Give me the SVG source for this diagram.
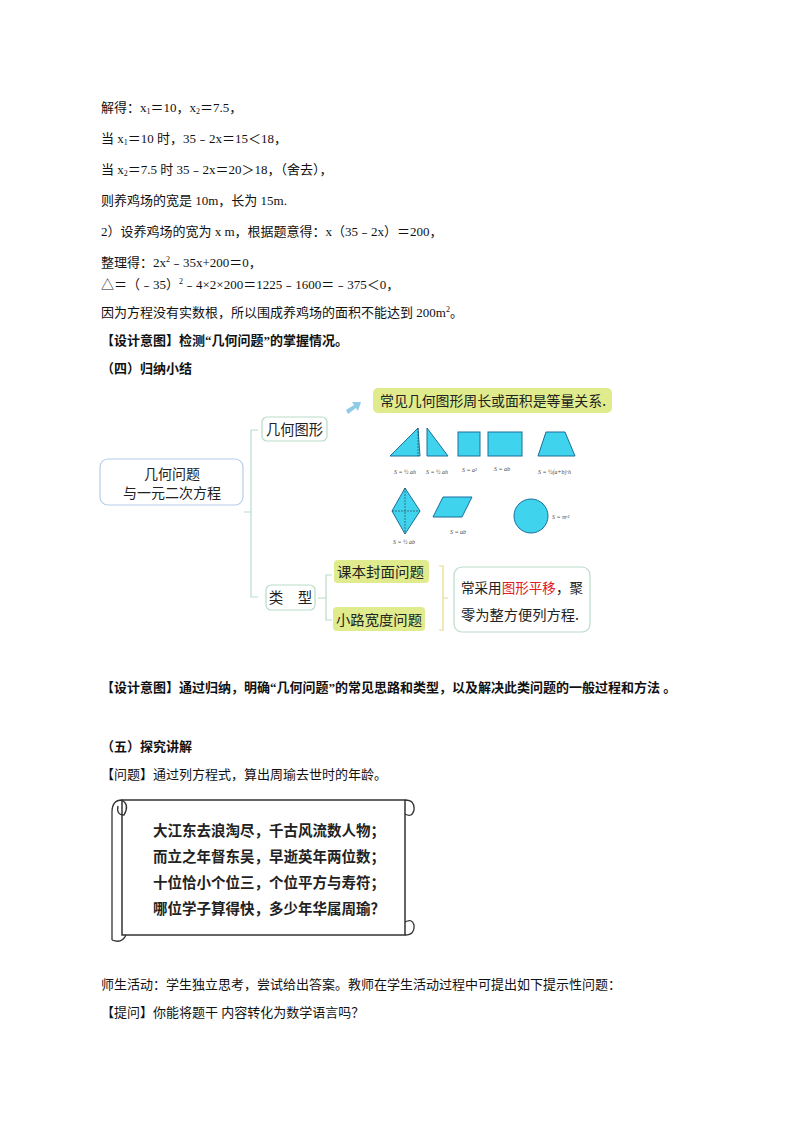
<svg xmlns="http://www.w3.org/2000/svg" width="800" height="1132" viewBox="0 0 800 1132">
<style>
.t{font-family:"Liberation Serif","Noto Sans CJK SC",serif;font-size:13px;fill:#111}
.b{font-weight:bold}
.m{font-family:"Noto Sans CJK SC",sans-serif;fill:#222}
.s{fill:#3fd3ee;stroke:#1a6f9e;stroke-width:1}
.f{font-family:"Liberation Serif",serif;font-style:italic;font-size:6px;fill:#444}
.ln{fill:none;stroke:#b9dcc8;stroke-width:1.2}
.sc{font-family:"Noto Sans CJK SC",sans-serif;font-size:14.5px;font-weight:bold;fill:#222}
</style>
<rect width="800" height="1132" fill="#fff"/>
<g id="text-top">
<text class="t" x="101" y="112">解得：x<tspan font-size="8" dy="2">1</tspan><tspan dy="-2">＝10，x</tspan><tspan font-size="8" dy="2">2</tspan><tspan dy="-2">＝7.5，</tspan></text>
<text class="t" x="101" y="143">当 x<tspan font-size="8" dy="2">1</tspan><tspan dy="-2">＝10 时，35﹣2x＝15＜18，</tspan></text>
<text class="t" x="101" y="174">当 x<tspan font-size="8" dy="2">2</tspan><tspan dy="-2">＝7.5 时 35﹣2x＝20＞18，（舍去），</tspan></text>
<text class="t" x="101" y="205">则养鸡场的宽是 10m，长为 15m.</text>
<text class="t" x="101" y="236">2）设养鸡场的宽为 x m，根据题意得：x（35﹣2x）＝200，</text>
<text class="t" x="101" y="267">整理得：2x<tspan font-size="8" dy="-5">2</tspan><tspan dy="5">﹣35x+200＝0，</tspan></text>
<text class="t" x="101" y="289">△＝（﹣35）<tspan font-size="8" dy="-5">2</tspan><tspan dy="5">﹣4×2×200＝1225﹣1600＝﹣375＜0，</tspan></text>
<text class="t" x="101" y="317">因为方程没有实数根，所以围成养鸡场的面积不能达到 200m<tspan font-size="8" dy="-5">2</tspan><tspan dy="5">。</tspan></text>
<text class="t b" x="101" y="345">【设计意图】检测“几何问题”的掌握情况。</text>
<text class="t b" x="101" y="373">（四）归纳小结</text>
</g>
<g id="connectors">
<path class="ln" d="M258 430 L251 430 L251 597 L258 597 M251 512 L244 512"/>
<path class="ln" d="M332 575 L326 575 L326 620 L332 620 M326 598 L318 598"/>
<path fill="none" stroke="#e8d98a" stroke-width="1.2" d="M439 566 L443 566 L443 630 L439 630 M443 598 L448 598"/>
<path fill="#8fcbe6" d="M346 410 L354 405 L352 402 L361 402 L358 411 L356 408 L348 414 Z"/>
</g>
<g id="main"><rect x="100" y="459" width="143" height="46" rx="8" fill="#fff" stroke="#b6cdea" stroke-width="1.2"/>
<text class="m" x="172" y="479" font-size="14" text-anchor="middle">几何问题</text>
<text class="m" x="172" y="498" font-size="14" text-anchor="middle">与一元二次方程</text></g>
<g id="jihe"><rect x="262" y="417" width="65" height="24" rx="5" fill="#fff" stroke="#b9dcc8" stroke-width="1.2"/>
<text class="m" x="266" y="435" font-size="14.5" textLength="57" lengthAdjust="spacingAndGlyphs">几何图形</text></g>
<g id="note"><rect x="373" y="388" width="239" height="25" rx="5" fill="#dfeb8c"/>
<text class="m" x="380" y="406" font-size="14" textLength="226" lengthAdjust="spacingAndGlyphs">常见几何图形周长或面积是等量关系.</text></g>
<g id="shapes">
<path class="s" d="M390 456 L418 428 L420 456 Z"/><path d="M418 428 L418 456" stroke="#333" stroke-dasharray="2 1" stroke-width=".6"/>
<path class="s" d="M427 428 L448 456 L427 456 Z"/>
<rect class="s" x="458" y="432" width="22" height="24"/>
<rect class="s" x="488" y="432" width="34" height="24"/>
<path class="s" d="M546 432 L565 432 L575 456 L538 456 Z"/>
<text class="f" x="394" y="474">S = ½ ah</text><text class="f" x="426" y="474">S = ½ ah</text>
<text class="f" x="462" y="472">S = a²</text><text class="f" x="494" y="471">S = ab</text><text class="f" x="538" y="474">S = ½(a+b)·h</text>
<path class="s" d="M405 488 L420 511 L405 534 L392 511 Z"/><path d="M405 488 L405 534 M392 511 L420 511" stroke="#333" stroke-dasharray="2 1" stroke-width=".6"/>
<path class="s" d="M443 497 L472 497 L462 517 L433 517 Z"/>
<circle class="s" cx="531" cy="516" r="17"/>
<text class="f" x="393" y="544">S = ½ ab</text><text class="f" x="450" y="534">S = ab</text><text class="f" x="552" y="519">S = πr²</text>
</g>
<g id="leixing"><rect x="266" y="585" width="49" height="25" rx="5" fill="#fff" stroke="#b9dcc8" stroke-width="1.2"/>
<text class="m" x="290.5" y="603" font-size="14.5" text-anchor="middle">类　型</text></g>
<g id="kb"><rect x="334" y="560" width="95" height="23" rx="4" fill="#dfeb8c"/>
<text class="m" x="337" y="577" font-size="14" textLength="87" lengthAdjust="spacingAndGlyphs">课本封面问题</text></g>
<g id="xl"><rect x="333" y="607" width="92" height="24" rx="4" fill="#dfeb8c"/>
<text class="m" x="336" y="625" font-size="14" textLength="86" lengthAdjust="spacingAndGlyphs">小路宽度问题</text></g>
<g id="method"><rect x="454" y="567" width="136" height="65" rx="8" fill="#fff" stroke="#b9dcc8" stroke-width="1.2"/>
<text class="m" x="461" y="593" font-size="14" textLength="122" lengthAdjust="spacingAndGlyphs">常采用<tspan fill="#e02020">图形平移</tspan>，聚</text>
<text class="m" x="461" y="620" font-size="14" textLength="118" lengthAdjust="spacingAndGlyphs">零为整方便列方程.</text></g>
<g id="text-mid">
<text class="t b" x="101" y="692">【设计意图】通过归纳，明确“几何问题”的常见思路和类型，以及解决此类问题的一般过程和方法 。</text>
<text class="t b" x="101" y="751">（五）探究讲解</text>
<text class="t" x="101" y="779">【问题】通过列方程式，算出周瑜去世时的年龄。</text>
</g>
<g id="scroll">
<path d="M122 800 L405 800 L405 935 L122 935 Z" fill="#fff" stroke="#333" stroke-width="1.5"/>
<path d="M122 800 Q112 800 112 812 L112 940 M122 800 Q130 805 124 815 Q116 815 118 806" fill="none" stroke="#333" stroke-width="1.3"/>
<path d="M405 800 Q415 800 414 810 Q412 818 405 814 M405 935 Q415 935 414 925 Q412 918 405 922 M112 940 Q122 944 126 935" fill="none" stroke="#333" stroke-width="1.3"/>
<text class="sc" x="153" y="836">大江东去浪淘尽，千古风流数人物；</text>
<text class="sc" x="153" y="862">而立之年督东吴，早逝英年两位数；</text>
<text class="sc" x="153" y="888">十位恰小个位三，个位平方与寿符；</text>
<text class="sc" x="153" y="914">哪位学子算得快，多少年华属周瑜？</text>
</g>
<g id="text-bottom">
<text class="t" x="101" y="989">师生活动：学生独立思考，尝试给出答案。教师在学生活动过程中可提出如下提示性问题：</text>
<text class="t" x="101" y="1017">【提问】你能将题干 内容转化为数学语言吗？</text>
</g>
</svg>
